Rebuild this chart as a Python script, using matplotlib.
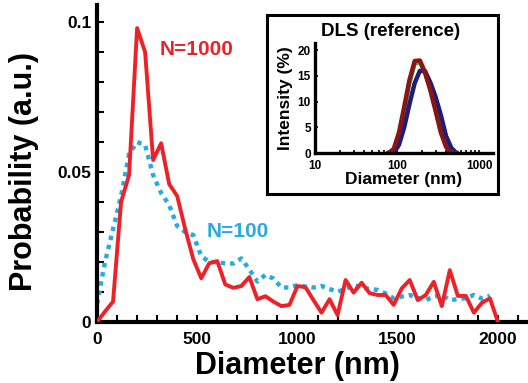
import matplotlib
matplotlib.use("Agg")
import matplotlib.pyplot as plt
from matplotlib.patches import Rectangle
from matplotlib.ticker import FixedLocator, MultipleLocator, LogLocator, NullFormatter

plt.rcParams['font.family'] = ['Liberation Sans', 'DejaVu Sans']
plt.rcParams['font.weight'] = 'bold'

# main chart: size histograms, bins every 40 nm
diam_n1000 = [0, 40, 80, 120, 160, 200, 240, 280, 320, 360, 400, 440, 480, 520, 560, 600,
              640, 680, 720, 760, 800, 840, 880, 920, 960, 1000, 1040, 1080, 1120, 1160,
              1200, 1240, 1280, 1320, 1360, 1400, 1440, 1480, 1520, 1560, 1600, 1640,
              1680, 1720, 1760, 1800, 1840, 1880, 1920, 1960, 2000]
prob_n1000 = [0.0, 0.0035, 0.0068, 0.040, 0.049, 0.098, 0.090, 0.054, 0.0596, 0.046, 0.042,
              0.031, 0.021, 0.0146, 0.0196, 0.0203, 0.0125, 0.0114, 0.012, 0.015, 0.0076,
              0.0086, 0.0068, 0.0053, 0.0057, 0.012, 0.0116, 0.0073, 0.0031, 0.0076, 0.0023,
              0.014, 0.0098, 0.0131, 0.0096, 0.009, 0.009, 0.0057, 0.0112, 0.014, 0.0073,
              0.009, 0.0134, 0.0053, 0.0173, 0.0087, 0.0087, 0.0031, 0.0064, 0.0079, 0.0]

diam_n100 = [0, 40, 80, 120, 160, 200, 240, 280, 320, 360, 400, 440, 480, 520, 560, 600,
             640, 680, 720, 760, 800, 840, 880, 920, 960, 1000, 1040, 1080, 1120, 1160,
             1200, 1240, 1280, 1320, 1360, 1400, 1440, 1480, 1520, 1560, 1600, 1640,
             1680, 1720, 1760, 1800, 1840, 1880, 1920, 1960]
prob_n100 = [0.006, 0.020, 0.031, 0.042, 0.056, 0.060, 0.059, 0.049, 0.043, 0.039, 0.032,
             0.030, 0.029, 0.022, 0.020, 0.020, 0.0195, 0.0195, 0.0212, 0.0175, 0.0135,
             0.0157, 0.0145, 0.0115, 0.0115, 0.0123, 0.0118, 0.0115, 0.012, 0.011, 0.0101,
             0.011, 0.0123, 0.0115, 0.011, 0.0107, 0.0095, 0.0079, 0.0085, 0.009, 0.008,
             0.0073, 0.0085, 0.009, 0.0073, 0.0076, 0.008, 0.009, 0.0078, 0.0087]

x_ticks = [0, 500, 1000, 1500, 2000]
x_labels = ['0', '500', '1000', '1500', '2000']
y_ticks = [0, 0.05, 0.1]
y_labels = ['0', '0.05', '0.1']

# inset: DLS intensity distributions
dls_d = [78.82, 91.28, 105.7, 122.4, 141.8, 164.2, 190.1, 220.2, 255.0, 295.3, 342.0,
         396.1, 458.7, 531.2]
dls_green = [0, 0.5, 3.4, 8.4, 13.7, 17.4, 17.7, 15.6, 12.4, 8.5, 4.4, 1.4, 0, 0]
dls_blue = [0, 0, 1.6, 5.0, 9.5, 13.6, 16.0, 15.9, 13.7, 10.9, 7.4, 3.3, 1.0, 0]
dls_red = [0, 0.8, 4.0, 9.0, 14.2, 17.9, 18.0, 15.6, 12.2, 8.2, 4.0, 1.2, 0, 0]

W, H = 528, 383
fig = plt.figure(figsize=(W / 100, H / 100), dpi=100)

ax = fig.add_axes([97 / W, (H - 322) / H, 431 / W, 317 / H])
ax.plot(diam_n100, prob_n100, color='#29ABE2', lw=3.2, linestyle=(0, (1, 1.1)),
        dash_capstyle='butt', zorder=2)
ax.plot(diam_n1000, prob_n1000, color='#ED2228', lw=2.8, zorder=3)
ax.set_xlim(0, 2150)
ax.set_ylim(0, 0.1057)
for s in ['top', 'right']:
    ax.spines[s].set_visible(False)
for s in ['left', 'bottom']:
    ax.spines[s].set_linewidth(3)
ax.xaxis.set_major_locator(FixedLocator(x_ticks))
ax.set_xticklabels(x_labels)
ax.xaxis.set_minor_locator(MultipleLocator(100))
ax.yaxis.set_major_locator(FixedLocator(y_ticks))
ax.set_yticklabels(y_labels)
ax.yaxis.set_minor_locator(MultipleLocator(0.01))
ax.tick_params(which='both', direction='in', length=5, width=1.5)
ax.tick_params(axis='x', which='major', labelsize=12.5, pad=7)
ax.tick_params(axis='y', which='major', labelsize=12.5, pad=4)
ax.set_xlabel('Diameter (nm)', fontsize=22, fontweight='bold', va='top')
ax.xaxis.set_label_coords(1000 / 2150, -0.09)
ax.set_ylabel('Probability (a.u.)', fontsize=22, fontweight='bold')
ax.yaxis.set_label_coords(-0.135, 0.476)

ax.text(496, 0.0907, 'N=1000', color='#ED2228', fontsize=15, fontweight='bold',
        ha='center', va='center')
ax.text(702, 0.0301, 'N=100', color='#29ABE2', fontsize=15, fontweight='bold',
        ha='center', va='center')

# inset frame
box = Rectangle((267 / W, (H - 194) / H), 231 / W, 179 / H, transform=fig.transFigure,
                facecolor='white', edgecolor='black', lw=2.2, zorder=1)
fig.add_artist(box)

ins = fig.add_axes([315 / W, (H - 153) / H, 178 / W, 110 / H], zorder=2)
ins.patch.set_alpha(0)
ins.plot(dls_d, dls_green, color='#2DB34A', lw=3.2)
ins.plot(dls_d, dls_blue, color='#1E1E78', lw=3.2)
ins.plot(dls_d, dls_red, color='#8A1515', lw=3.2)
ins.set_xscale('log')
ins.set_xlim(10, 1480)
ins.set_ylim(0, 21.4)
for s in ['top', 'right']:
    ins.spines[s].set_visible(False)
for s in ['left', 'bottom']:
    ins.spines[s].set_linewidth(2.4)
ins.xaxis.set_major_locator(FixedLocator([10, 100, 1000]))
ins.set_xticklabels(['10', '100', '1000'])
ins.xaxis.set_minor_locator(LogLocator(base=10, subs=range(2, 10)))
ins.xaxis.set_minor_formatter(NullFormatter())
ins.yaxis.set_major_locator(FixedLocator([0, 5, 10, 15, 20]))
ins.set_yticklabels(['0', '5', '10', '15', '20'])
ins.tick_params(which='both', direction='in', length=2.5, width=1.2)
ins.tick_params(axis='y', which='major', labelsize=8.5, pad=3)
ins.tick_params(axis='x', which='major', labelsize=8.5, pad=5)
ins.set_xlabel('Diameter (nm)', fontsize=12.5, fontweight='bold', labelpad=0)
ins.set_ylabel('Intensity (%)', fontsize=12.5, fontweight='bold', labelpad=3)
fig.text(391 / W, 1 - 32 / H, 'DLS (reference)', fontsize=13.5, fontweight='bold',
         ha='center', va='center')

fig.savefig('out.png', dpi=100)
